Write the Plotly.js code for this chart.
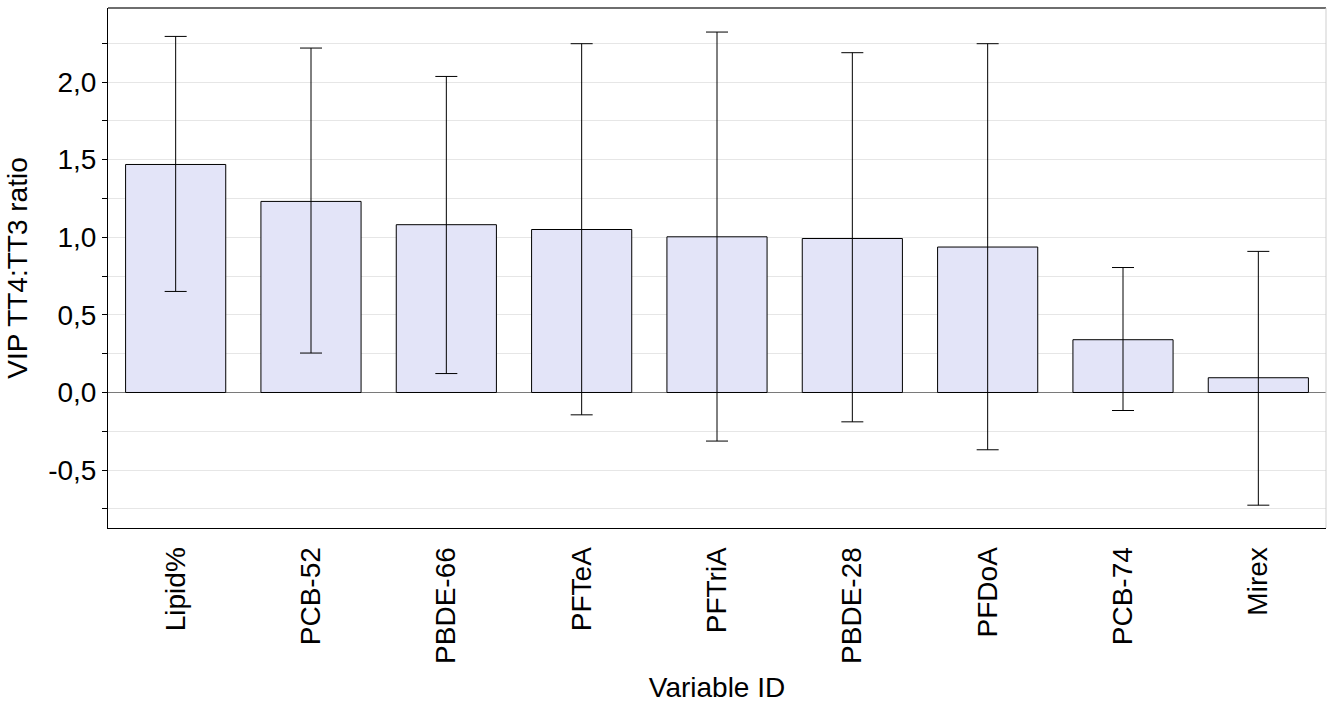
<!DOCTYPE html>
<html>
<head>
<meta charset="utf-8">
<script src="https://cdn.plot.ly/plotly-3.0.1.min.js"></script>
<style>html,body{margin:0;padding:0;background:#fff;}#chart{width:1327px;height:713px;}</style>
</head>
<body>
<div id="chart"></div>
<script>
const categories = ["Lipid%", "PCB-52", "PBDE-66", "PFTeA", "PFTriA", "PBDE-28", "PFDoA", "PCB-74", "Mirex"];
const vipValues = [1.469, 1.231, 1.081, 1.050, 1.003, 0.992, 0.937, 0.340, 0.095];
const upperBound = [2.294, 2.219, 2.036, 2.247, 2.322, 2.189, 2.247, 0.805, 0.909];
const lowerBound = [0.651, 0.254, 0.122, -0.144, -0.313, -0.189, -0.369, -0.116, -0.726];
const yTickValues = [-0.5, 0, 0.5, 1.0, 1.5, 2.0];
const yTickLabels = ["-0,5", "0,0", "0,5", "1,0", "1,5", "2,0"];

const errPlus = vipValues.map((v, i) => upperBound[i] - v);
const errMinus = vipValues.map((v, i) => v - lowerBound[i]);

const fontFam = "Liberation Sans, Arial, sans-serif";
const fs = 28;

const trace = {
  type: "bar",
  x: categories,
  y: vipValues,
  width: 0.74,
  marker: {color: "#e3e4f8", line: {color: "#000000", width: 1}},
  error_y: {type: "data", symmetric: false, array: errPlus, arrayminus: errMinus,
            color: "#000000", thickness: 1, width: 11},
  hoverinfo: "x+y"
};

const layout = {
  width: 1327, height: 713,
  margin: {l: 108, r: 1, t: 8, b: 185},
  paper_bgcolor: "#ffffff", plot_bgcolor: "#ffffff",
  showlegend: false,
  font: {family: fontFam, size: fs, color: "#000"},
  xaxis: {
    type: "category",
    tickangle: -90,
    showline: true, linecolor: "#000", linewidth: 1,
    showgrid: false, ticks: "outside", ticklen: 7, tickcolor: "rgba(0,0,0,0)",
    tickfont: {family: fontFam, size: fs, color: "#000"},
    title: {text: "Variable ID", font: {family: fontFam, size: fs, color: "#000"}, standoff: 14},
    automargin: false
  },
  yaxis: {
    range: [-0.873, 2.477],
    tickmode: "array", tickvals: yTickValues, ticktext: yTickLabels,
    ticks: "outside", ticklen: 5, tickcolor: "#000", tickwidth: 1,
    showline: true, linecolor: "#000", linewidth: 1,
    showgrid: true, gridcolor: "#e6e6e6", gridwidth: 1,
    zeroline: true, zerolinecolor: "#7a7a7a", zerolinewidth: 1,
    minor: {tickmode: "linear", dtick: 0.25, tick0: 0, ticks: "outside", ticklen: 5, tickcolor: "#000", showgrid: true, gridcolor: "#e6e6e6", gridwidth: 1},
    tickfont: {family: fontFam, size: fs, color: "#000"},
    title: {text: "VIP TT4:TT3 ratio", font: {family: fontFam, size: fs, color: "#000"}, standoff: 12},
    automargin: false
  },
  shapes: [
    {type: "line", xref: "paper", yref: "paper", x0: 0, x1: 1, y0: 1, y1: 1, line: {color: "#6e6e6e", width: 2}},
    {type: "line", xref: "paper", yref: "paper", x0: 1, x1: 1, y0: 0, y1: 1, line: {color: "#cfcfcf", width: 1}}
  ]
};

Plotly.newPlot("chart", [trace], layout, {displayModeBar: false, staticPlot: true});
</script>
</body>
</html>
